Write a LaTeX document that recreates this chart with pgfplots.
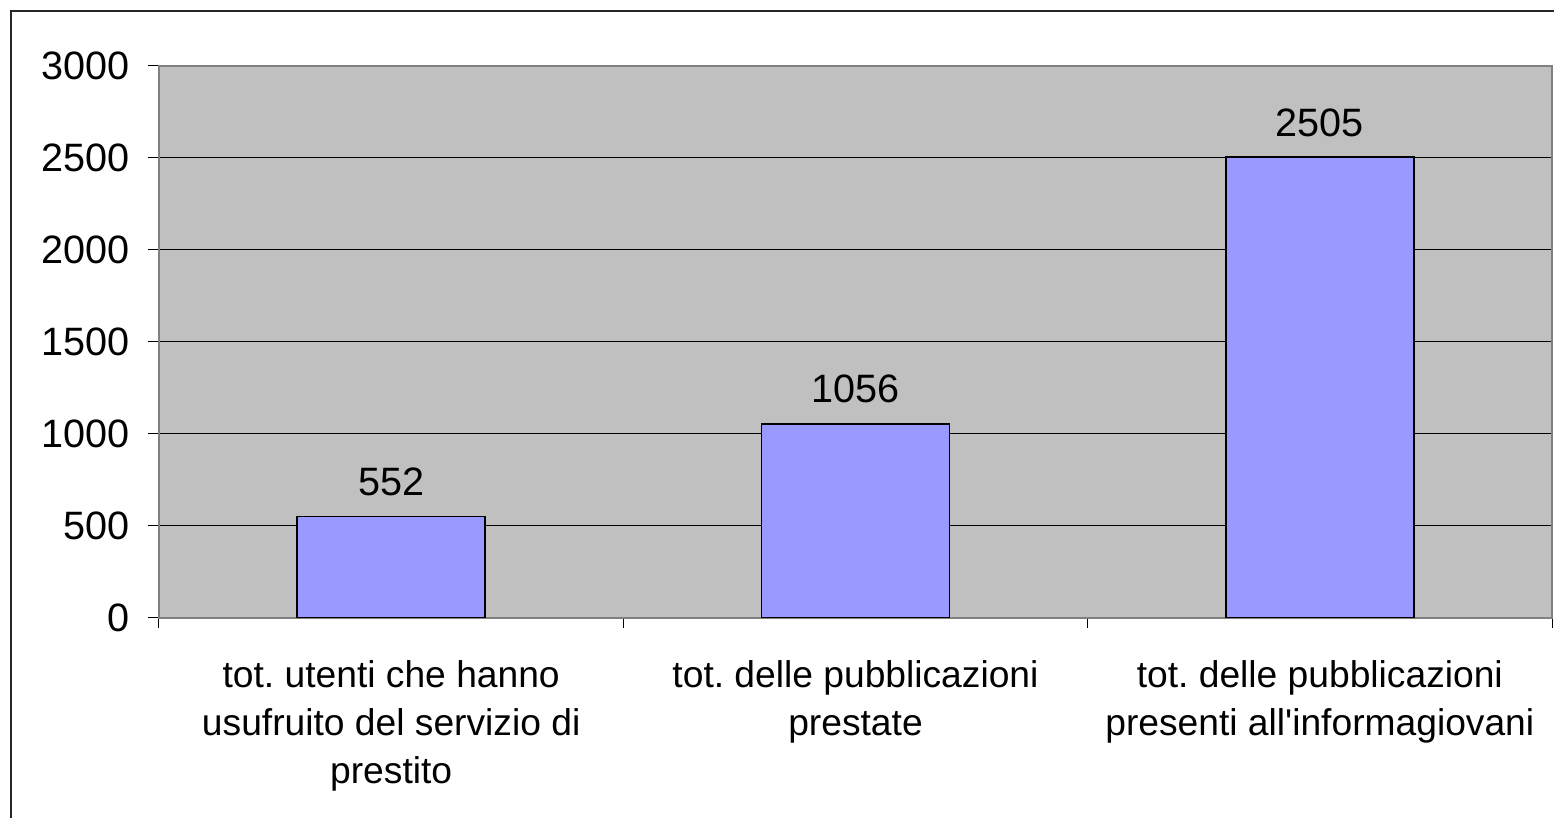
\documentclass[border=0pt]{standalone}
\usepackage{fontspec}
\setmainfont{Liberation Sans}
\usepackage{pgfplots}
\pgfplotsset{compat=1.18}
\definecolor{plotbg}{HTML}{C0C0C0}
\definecolor{barfill}{HTML}{9999FF}
\definecolor{frame}{HTML}{808080}
\frenchspacing
\begin{document}
\begin{tikzpicture}
\useasboundingbox (0pt,0pt) rectangle (777pt,409pt);
\clip (0pt,0pt) rectangle (777pt,409pt);
\draw[line width=1pt, black!85] (5.5pt,-20pt) -- (5.5pt,403.5pt) -- (800pt,403.5pt);
\begin{axis}[
  at={(79.5pt,100pt)}, anchor=south west,
  scale only axis, width=696.5pt, height=276pt,
  xmin=-0.5, xmax=2.5, ymin=0, ymax=3000,
  ybar, bar width=94pt,
  axis background/.style={fill=plotbg},
  axis line style={draw=frame, line width=1pt},
  ytick={0,500,...,3000},
  ymajorgrids, grid style={black, line width=0.5pt},
  xtick={0,1,2},
  xticklabels={{\frenchspacing tot. utenti che hanno\\usufruito del servizio di\\prestito},
               {\frenchspacing tot. delle pubblicazioni\\prestate},
               {\frenchspacing tot. delle pubblicazioni\\presenti all\textquotesingle informagiovani}},
  minor xtick={-0.5,0.5,1.5,2.5},
  every major x tick/.style={draw=none},
  tick align=outside, tick pos=left,
  major tick length=5.25pt, minor tick length=5pt,
  tick style={black, line width=0.5pt},
  every minor tick/.style={black, line width=0.5pt},
  /pgf/number format/assume math mode=true,
  yticklabel style={font=\fontsize{19.8}{22}\selectfont, anchor=east, inner sep=0pt, xshift=-9.5pt},
  xticklabel style={font=\fontsize{18.6}{23.8}\selectfont, align=center, anchor=north, inner sep=0pt, yshift=-16pt},
  scaled y ticks=false,
  nodes near coords,
  every node near coord/.append style={font=\fontsize{19.8}{22}\selectfont, anchor=base, inner sep=0pt, yshift=10.5pt},
  /pgf/number format/.cd, 1000 sep={},
]
\addplot[fill=barfill, draw=black, line width=0.9pt] coordinates {(0,552) (1,1056) (2,2505)};
\end{axis}
\end{tikzpicture}
\end{document}
